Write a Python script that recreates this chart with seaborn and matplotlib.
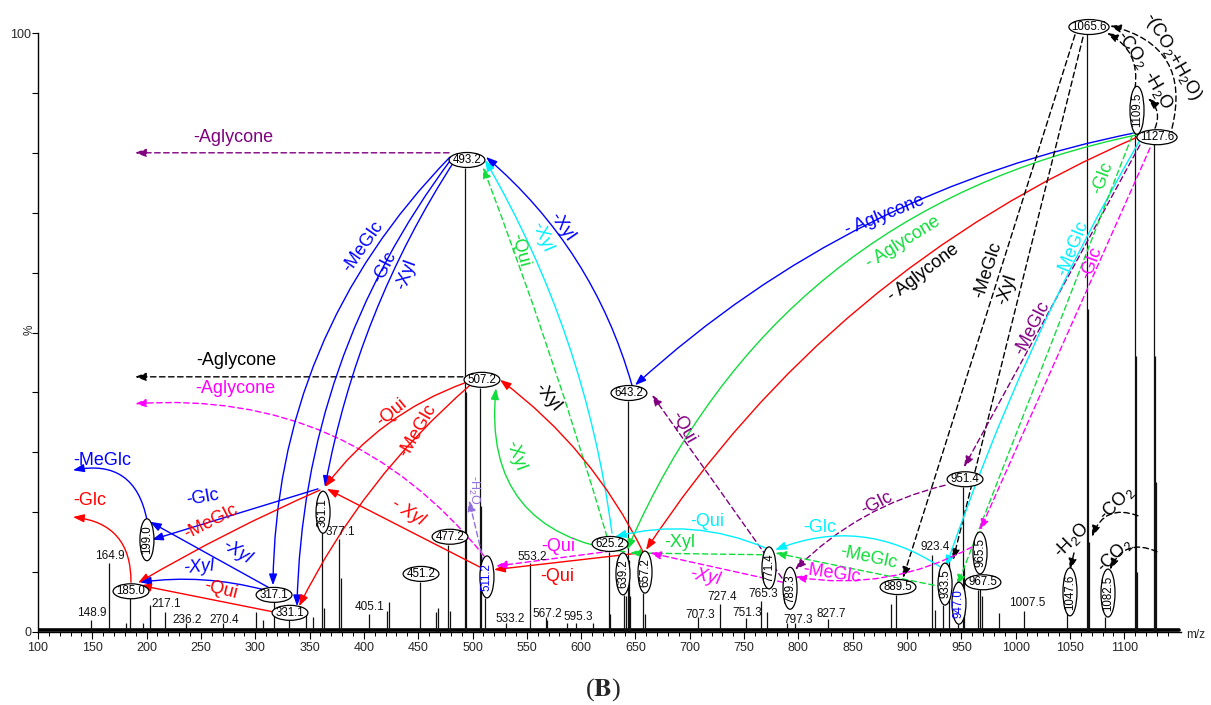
import matplotlib
matplotlib.use("Agg")
import matplotlib.pyplot as plt
from matplotlib.patches import Ellipse
import seaborn as sns
import pandas as pd

# ---------------- spectrum data (m/z, relative intensity %) ----------------
peak_mz = [148.9, 164.9, 181.0, 185.0, 197.0, 203.0, 217.1, 236.2, 270.4, 301.0,
           307.0, 317.1, 331.1, 347.0, 353.0, 361.1, 363.0, 377.1, 379.1, 405.1,
           421.0, 423.0, 451.2, 466.0, 468.0, 477.2, 479.2, 493.2, 494.2, 507.2,
           508.2, 511.2, 531.0, 553.2, 567.2, 569.0, 587.0, 595.3, 611.0, 625.2,
           627.0, 639.2, 641.2, 643.2, 644.2, 645.2, 657.2, 659.0, 707.3, 727.4,
           751.3, 765.3, 771.4, 789.3, 797.3, 827.7, 885.5, 889.5, 923.4, 926.0,
           933.5, 939.0, 947.0, 951.4, 952.4, 965.5, 967.5, 969.0, 985.0, 1007.5,
           1047.6, 1065.6, 1066.6, 1067.6, 1082.5, 1109.5, 1110.5, 1111.5, 1127.6,
           1128.6, 1129.6]
peak_int = [2.0, 11.6, 1.5, 5.6, 1.5, 4.5, 3.3, 1.5, 1.5, 3.3,
            2.0, 5.0, 2.0, 3.0, 2.5, 16.8, 4.0, 15.6, 9.0, 3.0,
            3.5, 5.0, 8.4, 3.3, 4.0, 14.6, 3.5, 77.5, 40.0, 40.8,
            21.0, 5.7, 1.5, 11.5, 2.5, 2.0, 1.5, 1.5, 1.5, 13.4,
            3.0, 6.2, 6.0, 38.6, 12.0, 6.0, 6.5, 3.0, 2.5, 4.6,
            2.3, 5.2, 3.3, 1.5, 1.5, 2.2, 4.7, 6.2, 12.9, 3.7,
            4.5, 12.0, 1.3, 24.2, 11.0, 7.0, 7.3, 6.0, 3.2, 3.5,
            3.3, 100.0, 54.0, 15.0, 2.5, 83.5, 46.0, 10.0, 81.6,
            46.0, 25.0]
noise_floor = 0.4

# ---------------- circled ion labels ----------------
circ_text = ["1065.6", "1109.5", "1127.6", "493.2", "507.2", "643.2", "625.2", "639.2",
             "657.2", "511.2", "477.2", "451.2", "361.1", "199.0", "185.0", "317.1",
             "331.1", "771.4", "789.3", "889.5", "933.5", "947.0", "951.4", "965.5",
             "967.5", "1047.6", "1082.5"]
circ_x = [1067.5, 1111.7, 1130.1, 494.9, 508.7, 644.0, 626.6, 638.5,
          658.8, 513.3, 479.3, 452.6, 362.4, 200.3, 185.6, 317.3,
          332.0, 772.9, 792.3, 891.7, 935.0, 947.8, 953.4, 967.2,
          969.9, 1050.0, 1085.0]
circ_y = [101.0, 87.1, 82.6, 78.8, 42.1, 39.9, 14.7, 9.7,
          10.0, 9.2, 15.9, 9.7, 20.0, 15.4, 6.8, 6.2,
          3.2, 10.7, 7.3, 7.5, 8.0, 4.8, 25.5, 13.2,
          8.3, 6.7, 6.5]
circ_vert = [False, True, False, False, False, False, False, True,
             True, True, False, False, True, True, False, False,
             False, True, True, False, True, True, False, True,
             False, True, True]
circ_color = ["black"] * 9 + ["blue"] + ["black"] * 11 + ["blue"] + ["black"] * 5

# ---------------- plain peak labels ----------------
plain_text = ["148.9", "164.9", "217.1", "236.2", "270.4", "377.1", "405.1", "533.2",
              "553.2", "567.2", "595.3", "707.3", "727.4", "751.3", "765.3", "797.3",
              "827.7", "923.4", "1007.5"]
plain_x = [149.7, 166.3, 217.8, 237.2, 271.2, 378.0, 405.6, 534.5,
           554.8, 568.6, 597.1, 709.4, 729.7, 752.7, 767.4, 799.6,
           830.0, 925.7, 1010.4]
plain_y = [3.2, 12.7, 4.7, 2.0, 2.0, 16.7, 4.2, 2.2,
           12.5, 3.0, 2.5, 2.8, 5.8, 3.2, 6.3, 2.0,
           3.0, 14.2, 4.8]

# ---------------- colours ----------------
BLUE, RED, GREEN, CYAN = "#0000FF", "#FF0000", "#12DD3C", "#00F0FF"
MAG, PUR, LAV, BLK = "#FF00FF", "#800080", "#9370DB", "#000000"

# ---------------- fragmentation arrows: (x0, y0, x1, y1, colour, dashed, rad) ----------------
arrows = [
    (478.4, 80.0, 189.3, 80.0, PUR, True, 0.0),
    (491.2, 42.6, 189.3, 42.6, BLK, True, 0.0),
    (510.6, 12.7, 189.3, 38.1, MAG, True, 0.26),
    (200.3, 18.7, 132.2, 27.0, BLUE, False, 0.5),
    (185.6, 8.3, 132.2, 19.2, RED, False, 0.45),
    (479.3, 79.3, 316.3, 7.8, BLUE, False, 0.2),
    (481.1, 79.1, 338.4, 4.3, BLUE, False, 0.16),
    (483.9, 78.8, 364.2, 24.2, BLUE, False, 0.1),
    (646.8, 41.2, 512.4, 79.3, BLUE, False, 0.15),
    (628.4, 16.5, 511.5, 78.8, CYAN, False, 0.1),
    (623.8, 15.9, 509.6, 77.6, GREEN, True, 0.02),
    (493.1, 41.6, 364.2, 24.2, RED, False, 0.15),
    (497.7, 41.2, 340.3, 4.3, RED, False, 0.1),
    (511.5, 10.4, 366.0, 23.9, RED, False, 0.0),
    (654.2, 13.2, 519.8, 10.4, RED, False, 0.0),
    (635.8, 13.7, 521.6, 11.0, MAG, True, 0.0),
    (510.6, 11.5, 496.8, 22.0, LAV, True, 0.0),
    (640.4, 13.4, 521.6, 40.7, GREEN, False, -0.48),
    (656.9, 13.4, 525.3, 42.1, RED, False, 0.12),
    (357.8, 23.9, 204.9, 15.4, BLUE, False, 0.0),
    (359.6, 23.7, 192.1, 8.2, RED, False, 0.03),
    (313.6, 7.3, 203.1, 18.4, BLUE, False, 0.0),
    (309.0, 7.0, 193.9, 8.3, BLUE, False, 0.1),
    (318.2, 3.3, 193.9, 7.8, RED, False, 0.0),
    (1114.4, 83.5, 649.6, 41.2, BLUE, False, 0.14),
    (1114.4, 83.1, 642.2, 13.7, GREEN, False, 0.26),
    (1114.4, 82.8, 659.7, 13.7, RED, False, 0.15),
    (1054.6, 99.7, 896.3, 9.0, BLK, True, 0.0),
    (1062.0, 99.3, 942.3, 12.0, BLK, True, 0.0),
    (1114.4, 81.3, 952.4, 27.5, PUR, True, 0.0),
    (1114.4, 82.1, 935.9, 10.9, CYAN, False, 0.05),
    (1109.9, 84.1, 946.0, 7.7, GREEN, True, 0.0),
    (1123.7, 80.8, 967.2, 17.0, MAG, True, 0.0),
    (935.0, 24.5, 796.9, 10.4, PUR, True, 0.14),
    (784.9, 9.0, 665.2, 39.6, PUR, True, 0.0),
    (930.3, 10.9, 778.5, 13.7, CYAN, False, 0.26),
    (770.2, 14.0, 631.2, 15.9, CYAN, False, 0.17),
    (933.1, 7.5, 778.5, 13.2, GREEN, True, 0.0),
    (766.5, 12.9, 645.0, 13.2, GREEN, True, 0.0),
    (959.8, 14.2, 796.9, 9.2, MAG, True, -0.17),
    (785.8, 8.3, 663.4, 13.2, MAG, True, 0.0),
    (1143.9, 84.1, 1086.8, 101.2, BLK, True, 0.5),
    (1109.9, 90.8, 1084.1, 100.0, BLK, True, 0.35),
    (1128.3, 84.1, 1121.8, 89.1, BLK, True, 0.35),
    (1112.6, 19.4, 1070.3, 15.9, BLK, True, 0.5),
    (1130.1, 13.4, 1086.8, 10.4, BLK, True, 0.5),
    (1053.7, 13.2, 1050.0, 10.4, BLK, True, 0.0),
]

# ---------------- neutral-loss labels: (text, x, y, colour, rotation, italic, size) ----------------
loss_labels = [
    ("-Aglycone", 279.5, 82.6, PUR, 0, False, 13),
    ("-Aglycone", 282.3, 45.4, BLK, 0, False, 13),
    ("-Aglycone", 281.4, 40.7, MAG, 0, False, 13),
    ("-MeGlc", 158.9, 28.7, BLUE, 0, False, 13),
    ("-Glc", 147.9, 22.0, RED, 0, False, 13),
    ("-MeGlc", 399.2, 64.3, BLUE, 55, False, 13),
    ("-Glc", 419.4, 60.9, BLUE, 63, False, 13),
    ("-Xyl", 439.7, 59.6, BLUE, 70, False, 13),
    ("-Xyl", 582.4, 67.6, BLUE, -55, False, 13),
    ("-Xyl", 563.9, 65.9, CYAN, -67, False, 13),
    ("-Qui", 543.7, 63.8, GREEN, -75, False, 13),
    ("-Qui", 425.9, 36.7, RED, 40, False, 13),
    ("-MeGlc", 449.8, 33.7, RED, 60, False, 13),
    ("- Xyl", 440.6, 20.0, RED, -32, True, 13),
    ("-Qui", 577.8, 9.3, RED, 0, False, 13),
    ("-Qui", 578.7, 14.2, MAG, 0, False, 13),
    ("-H$_2$O", 501.4, 23.7, LAV, -90, False, 9),
    ("-Xyl", 540.0, 29.5, GREEN, -70, False, 13),
    ("-Xyl", 569.5, 39.1, BLK, -50, False, 13),
    ("-Glc", 251.9, 22.4, BLUE, 10, False, 13),
    ("-MeGlc", 259.3, 18.4, RED, 27, False, 13),
    ("-Xyl", 283.2, 13.4, BLUE, -32, True, 13),
    ("-Xyl", 248.2, 10.9, BLUE, 5, True, 13),
    ("-Qui", 268.5, 7.0, RED, -14, False, 13),
    ("- Aglycone", 879.7, 69.6, BLUE, 22, False, 13),
    ("- Aglycone", 896.3, 65.1, GREEN, 32, False, 13),
    ("- Aglycone", 914.7, 59.9, BLK, 37, False, 13),
    ("-MeGlc", 974.5, 60.4, BLK, 72, False, 13),
    ("-Xyl", 992.0, 57.1, BLK, 72, False, 13),
    ("-MeGlc", 1015.0, 50.8, PUR, 63, False, 13),
    ("-MeGlc", 1052.8, 64.1, CYAN, 68, False, 13),
    ("-Glc", 1080.4, 75.8, GREEN, 70, False, 13),
    ("-Glc", 1070.3, 61.6, MAG, 70, False, 13),
    ("-Glc", 872.3, 21.5, PUR, 27, False, 13),
    ("-Qui", 693.8, 34.2, PUR, -60, False, 13),
    ("-Glc", 819.9, 17.5, CYAN, 0, False, 13),
    ("-Qui", 715.9, 18.4, CYAN, 0, False, 13),
    ("-MeGlc", 865.0, 12.4, GREEN, -12, False, 13),
    ("-Xyl", 691.0, 14.9, GREEN, 0, False, 13),
    ("-MeGlc", 830.9, 9.8, MAG, -8, False, 13),
    ("-Xyl", 714.0, 9.2, MAG, -12, True, 13),
    ("-(CO$_2$+H$_2$O)", 1144.8, 96.0, BLK, -60, False, 13),
    ("-CO$_2$", 1107.1, 97.2, BLK, -55, False, 13),
    ("-H$_2$O", 1131.1, 90.5, BLK, -60, False, 13),
    ("-CO$_2$", 1093.3, 21.5, BLK, 45, False, 13),
    ("-CO$_2$", 1091.5, 12.9, BLK, 45, False, 13),
    ("-H$_2$O", 1051.9, 15.4, BLK, 45, False, 13),
]

x_major = list(range(100, 1101, 50))
x_minor = list(range(100, 1141, 10))
y_minor = list(range(0, 101, 10))

# ---------------- drawing ----------------
sns.set_theme(style="ticks")
plt.rcParams["font.family"] = ["Liberation Sans", "DejaVu Sans"]
plt.rcParams["mathtext.fontset"] = "custom"
plt.rcParams["mathtext.rm"] = "Liberation Sans"
plt.rcParams["mathtext.it"] = "Liberation Sans:italic"
plt.rcParams["mathtext.bf"] = "Liberation Sans:bold"

W, H = 1211, 705
fig = plt.figure(figsize=(W / 100, H / 100), dpi=100)
fig.patch.set_facecolor("white")
ax = fig.add_axes([38 / W, 73 / H, 1143 / W, 599 / H])
ax.set_facecolor("white")
ax.set_xlim(100, 1152.2)
ax.set_ylim(0, 100)

# noise floor and sticks
base = pd.DataFrame({"mz": [100, 1150], "level": [noise_floor, noise_floor]})
sns.lineplot(data=base, x="mz", y="level", color="black", lw=2.6, ax=ax, zorder=2)
spec = pd.DataFrame({"mz": peak_mz, "int": peak_int})
ax.vlines(spec["mz"], 0, spec["int"], color="#111111", lw=0.9, zorder=2)

# arrows
for x0, y0, x1, y1, col, dashed, rad in arrows:
    ax.annotate("", xy=(x1, y1), xytext=(x0, y0), annotation_clip=False,
                arrowprops=dict(arrowstyle="-|>,head_length=0.6,head_width=0.22",
                                mutation_scale=11, color=col, lw=1.0,
                                ls=(0, (4, 2.5)) if dashed else "-",
                                shrinkA=0, shrinkB=0,
                                connectionstyle=f"arc3,rad={rad}"),
                zorder=4)

# circled labels
for t, x, y, v, c in zip(circ_text, circ_x, circ_y, circ_vert, circ_color):
    n = len(t)
    if v:
        w, h = 12.9, (8.0 if n > 5 else 7.0)
    else:
        w, h = (37.0 if n > 5 else 33.0), 2.5
    ax.add_patch(Ellipse((x, y), w, h, facecolor="white", edgecolor="black",
                         lw=0.9, zorder=6, clip_on=False))
    ax.text(x, y, t, color=c, fontsize=8.3, ha="center", va="center",
            rotation=90 if v else 0, zorder=7, clip_on=False)

for t, x, y in zip(plain_text, plain_x, plain_y):
    ax.text(x, y, t, fontsize=8.5, ha="center", va="center", color="#111111", zorder=5)

for t, x, y, c, r, it, s in loss_labels:
    ax.text(x, y, t, color=c, fontsize=s, rotation=r, ha="center", va="center",
            rotation_mode="anchor", style="italic" if it else "normal",
            zorder=5, clip_on=False)

# axes styling
sns.despine(ax=ax)
ax.spines["left"].set_linewidth(1.0)
ax.spines["bottom"].set_linewidth(1.0)
ax.spines["left"].set_color("black")
ax.spines["bottom"].set_color("black")
ax.set_xticks(x_major)
ax.set_xticks(x_minor, minor=True)
ax.set_xticklabels([str(v) for v in x_major])
ax.set_yticks([0, 100])
ax.set_yticklabels(["0", "100"])
ax.set_yticks(y_minor, minor=True)
ax.tick_params(axis="x", which="major", length=5, width=0.8, labelsize=9, pad=2, color="black")
ax.tick_params(axis="x", which="minor", length=3, width=0.7, color="black")
ax.tick_params(axis="y", which="both", length=4, width=0.8, labelsize=9, pad=1, color="black")
ax.set_xlabel("")
ax.set_ylabel("")
ax.grid(False)

ax.text(1166, -0.5, "m/z", fontsize=8.5, ha="center", va="center", clip_on=False)
ax.text(-0.007, 0.504, "%", transform=ax.transAxes, fontsize=8.5, rotation=90,
        ha="center", va="center")
fig.text(603 / W, 1 - 690 / H, r"($\mathbf{B}$)", fontsize=19, math_fontfamily="stix",
         family=["Liberation Serif", "DejaVu Serif"], ha="center", va="center")

fig.savefig("out.png", dpi=100, facecolor="white")
